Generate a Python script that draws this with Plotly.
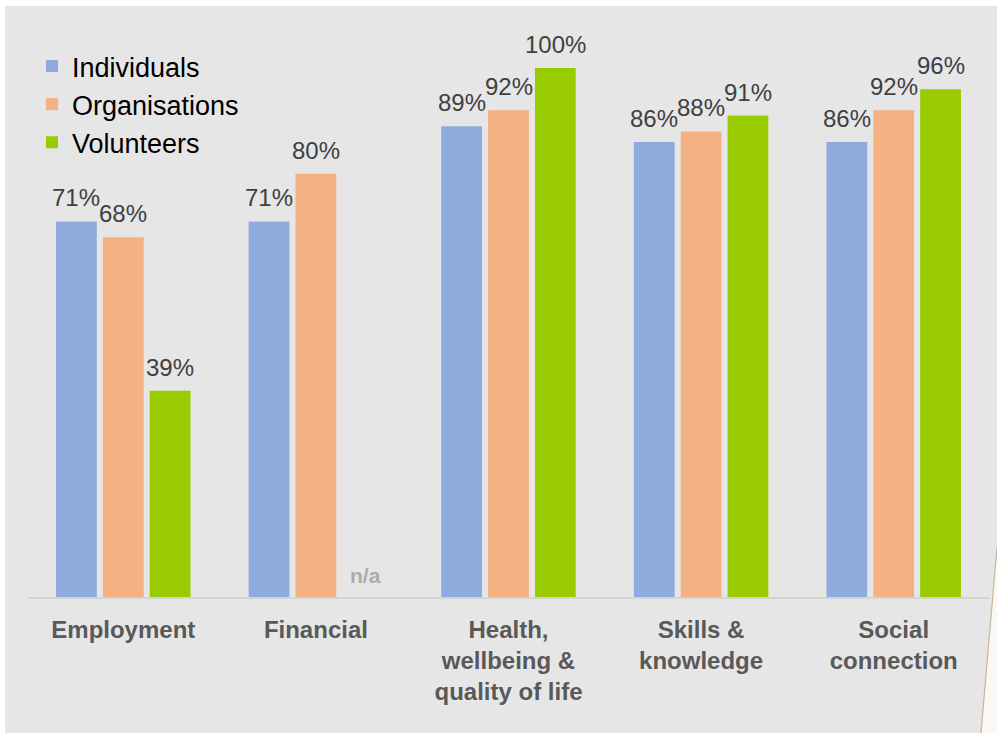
import plotly.graph_objects as go

# Outcome areas and the share of respondents reporting an improvement
categories = ["Employment", "Financial", "Health, wellbeing & quality of life",
              "Skills & knowledge", "Social connection"]
tick_labels = ["<b>Employment</b>", "<b>Financial</b>",
               "<b>Health,<br>wellbeing &<br>quality of life</b>",
               "<b>Skills &<br>knowledge</b>", "<b>Social<br>connection</b>"]
individuals = [71, 71, 89, 86, 86]
organisations = [68, 80, 92, 88, 92]
volunteers = [39, None, 100, 91, 96]

W, H = 997, 733
ML, MR, MT, MB = 27, 7, 68, 136
PW, PH = W - ML - MR, H - MT - MB
BARGAP, GROUPGAP = 0.27, 0.13


def px_x(x):
    return (x - ML) / PW


def px_y(y):
    return (H - MB - y) / PH


FONT = "Arial, Liberation Sans, sans-serif"
series = [
    ("Individuals", individuals, "#8faadc"),
    ("Organisations", organisations, "#f4b183"),
    ("Volunteers", volunteers, "#99cc00"),
]

fig = go.Figure()
for name, vals, color in series:
    fig.add_trace(go.Bar(
        name=name, x=categories, y=vals,
        marker=dict(color=color, line=dict(width=0)),
        hovertemplate="%{x}: %{y}%<extra>" + name + "</extra>",
    ))

# value labels above each bar, offset to the bar's slot within its group
slot = PW / len(categories) * (1 - BARGAP) / len(series)
for i, (name, vals, color) in enumerate(series):
    offset = (i - (len(series) - 1) / 2) * slot
    for cat, v in zip(categories, vals):
        if v is None:
            continue
        fig.add_annotation(x=cat, y=v, xref="x", yref="y", text=f"{v}%",
                           showarrow=False, xshift=offset, yanchor="bottom",
                           yshift=8, font=dict(family=FONT, size=24, color="#404040"))

# no volunteer figure for the financial outcome
fig.add_annotation(x="Financial", y=0, xref="x", yref="y", text="<b>n/a</b>",
                   showarrow=False, xshift=slot + 3, yanchor="bottom", yshift=8,
                   font=dict(family=FONT, size=21, color="#ababab"))

# gray card behind the chart with a slanted right edge
card = (f"M {px_x(5)} {px_y(6)} L {px_x(997)} {px_y(6)} L {px_x(997)} {px_y(547)} "
        f"L {px_x(981)} {px_y(733)} L {px_x(5)} {px_y(733)} Z")
curl = (f"M {px_x(997)} {px_y(547)} L {px_x(997)} {px_y(733)} "
        f"L {px_x(981)} {px_y(733)} Z")
fig.add_shape(type="path", path=card, xref="paper", yref="paper",
              fillcolor="#e6e6e6", line=dict(width=0), layer="below")
fig.add_shape(type="path", path=curl, xref="paper", yref="paper",
              fillcolor="#fbf8f3", line=dict(width=0), layer="below")
fig.add_shape(type="line", xref="paper", yref="paper",
              x0=px_x(997), y0=px_y(547), x1=px_x(981), y1=px_y(733),
              line=dict(color="#c9b49c", width=1.2))

fig.update_layout(
    width=W, height=H,
    margin=dict(l=ML, r=MR, t=MT, b=MB),
    paper_bgcolor="white", plot_bgcolor="rgba(0,0,0,0)",
    barmode="group", bargap=BARGAP, bargroupgap=GROUPGAP,
    showlegend=True,
    legend=dict(x=px_x(32), y=px_y(42), xanchor="left", yanchor="top",
                bgcolor="rgba(0,0,0,0)",
                font=dict(family=FONT, size=27, color="#000000"),
                itemclick=False),
    font=dict(family=FONT),
)
fig.update_xaxes(tickvals=categories, ticktext=tick_labels,
                 tickfont=dict(family=FONT, size=24, color="#595959"),
                 ticklabelstandoff=10,
                 showline=True, linecolor="#d4d4d4", linewidth=1.5,
                 ticks="", showgrid=False, zeroline=False)
fig.update_yaxes(range=[0, 100], visible=False, showgrid=False, zeroline=False)

fig.write_html("out.html")
